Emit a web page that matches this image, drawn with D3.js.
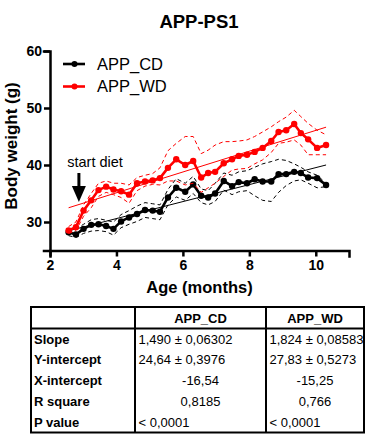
<!DOCTYPE html>
<html lang="en">
<head>
<meta charset="UTF-8">
<title>APP-PS1 body weight</title>
<script src="https://d3js.org/d3.v7.min.js"></script>
<style>
  body { margin: 0; background: #fff; }
  svg { display: block; font-family: "Liberation Sans", Arial, sans-serif; }
  .axis path, .axis line { stroke: #000; stroke-width: 2.5px; }
  .axis text { font-size: 14px; font-weight: bold; fill: #000; }
</style>
</head>
<body>
<svg width="373" height="442"></svg>
<script>
// ages (months) of each weekly weighing
const ages = [2.56, 2.78, 3.01, 3.24, 3.46, 3.69, 3.91, 4.14, 4.38, 4.62, 4.86, 5.09, 5.31, 5.55,
  5.80, 6.07, 6.31, 6.55, 6.76, 6.97, 7.23, 7.48, 7.68, 7.93, 8.16, 8.40, 8.66, 8.88, 9.11,
  9.35, 9.55, 9.77, 10.04, 10.31];

// APP_CD mean and band
const cdMean = [28.2, 27.8, 28.8, 29.5, 29.6, 29.3, 28.8, 30.1, 30.8, 31.4, 32.1, 32.0, 31.8, 34.3,
  36.0, 35.3, 36.6, 34.6, 34.3, 35.0, 37.2, 36.3, 37.0, 36.8, 37.5, 37.1, 37.1, 38.4, 38.4,
  38.8, 38.6, 37.8, 37.7, 36.5];
const cdUpper = [28.8, 28.8, 29.6, 30.4, 30.6, 30.3, 30.0, 31.3, 32.0, 32.8, 33.4, 33.2, 33.0, 35.7,
  37.6, 36.8, 38.0, 35.8, 35.5, 36.8, 38.6, 38.2, 38.8, 39.0, 39.6, 40.2, 40.6, 41.0, 40.8,
  40.2, 39.6, 38.8, 38.2, 36.8];
const cdLower = [27.6, 27.3, 28.0, 28.4, 28.5, 28.3, 27.7, 29.0, 29.6, 30.1, 30.8, 30.6, 30.4, 33.0,
  34.4, 33.8, 35.0, 33.4, 33.0, 33.6, 35.6, 34.8, 35.3, 35.5, 34.6, 33.8, 33.6, 35.2, 36.4,
  37.2, 37.4, 36.8, 36.0, 36.2];

// APP_WD mean and band
const wdMean = [28.5, 29.1, 32.0, 33.8, 35.6, 36.2, 35.7, 35.4, 34.8, 36.8, 37.1, 37.3, 37.7, 39.5,
  41.0, 40.0, 40.7, 37.8, 38.6, 38.8, 40.3, 41.0, 41.6, 41.8, 42.3, 43.0, 44.2, 45.8, 46.1,
  47.2, 45.6, 44.5, 43.0, 43.5];
const wdUpper = [29.2, 30.0, 33.0, 35.0, 36.8, 37.2, 36.8, 36.8, 36.5, 37.8, 38.2, 38.5, 39.5, 42.5,
  43.8, 45.0, 45.0, 42.0, 42.6, 43.5, 44.1, 44.1, 44.2, 44.4, 45.0, 45.8, 46.7, 47.6, 48.4,
  49.6, 48.5, 47.3, 46.1, 45.3];
const wdLower = [28.0, 28.5, 31.0, 32.5, 34.5, 35.2, 34.8, 34.3, 33.3, 35.5, 36.3, 36.6, 36.5, 37.2,
  37.2, 36.5, 36.8, 35.2, 36.0, 36.8, 38.0, 39.1, 39.3, 39.4, 40.2, 40.9, 42.2, 43.8, 44.0,
  44.4, 43.5, 41.8, 41.8, 41.8];

// linear fits (slope, intercept) from the table
const cdFit = [1.490, 24.64];
const wdFit = [1.824, 27.83];

const seriesNames = ["APP_CD", "APP_WD"];
const seriesColors = ["#000000", "#ff0000"];
const xTicks = [2, 4, 6, 8, 10];
const yTicks = [30, 40, 50, 60];
const dietStart = 2.87;

// table
const rowLabels = ["Slope", "Y-intercept", "X-intercept", "R square", "P value"];
const cdStats = ["1,490 ± 0,06302", "24,64 ± 0,3976", "-16,54", "0,8185", "< 0,0001"];
const wdStats = ["1,824 ± 0,08583", "27,83 ± 0,5273", "-15,25", "0,766", "< 0,0001"];
const centeredRows = [false, false, true, true, false];

const svg = d3.select("svg");
const x = d3.scaleLinear().domain([2, 11]).range([50, 349]);
const y = d3.scaleLinear().domain([25, 60]).range([250.5, 51]);

// title
svg.append("text").attr("x", 199).attr("y", 28).attr("text-anchor", "middle")
  .style("font-size", "18.5px").style("font-weight", "bold").text("APP-PS1");

// axes
svg.append("g").attr("class", "axis").attr("transform", "translate(0,250.5)")
  .call(d3.axisBottom(x).tickValues(xTicks).tickSize(6).tickPadding(4).tickFormat(d3.format("d")));
svg.append("g").attr("class", "axis").attr("transform", "translate(50,0)")
  .call(d3.axisLeft(y).tickValues(yTicks).tickSize(6).tickPadding(2).tickFormat(d3.format("d")));
svg.selectAll(".axis .domain").attr("stroke-linecap", "square");

svg.append("text").attr("x", 199.5).attr("y", 293).attr("text-anchor", "middle")
  .style("font-size", "16.5px").style("font-weight", "bold").text("Age (months)");
svg.append("text").attr("transform", "translate(17,146) rotate(-90)").attr("text-anchor", "middle")
  .style("font-size", "17px").style("font-weight", "bold").text("Body weight (g)");

const series = [
  { mean: cdMean, upper: cdUpper, lower: cdLower, fit: cdFit, color: seriesColors[0] },
  { mean: wdMean, upper: wdUpper, lower: wdLower, fit: wdFit, color: seriesColors[1] }
];

const line = d3.line().x(d => x(d[0])).y(d => y(d[1]));
const pairs = vals => ages.map((a, i) => [a, vals[i]]);
const xs = d3.extent(ages);

series.forEach(s => {
  [s.upper, s.lower].forEach(b => {
    svg.append("path").attr("d", line(pairs(b))).attr("fill", "none")
      .attr("stroke", s.color).attr("stroke-width", 1).attr("stroke-dasharray", "4,3");
  });
  svg.append("path").attr("d", line(xs.map(a => [a, s.fit[0] * a + s.fit[1]])))
    .attr("fill", "none").attr("stroke", s.color).attr("stroke-width", 1);
  svg.append("path").attr("d", line(pairs(s.mean))).attr("fill", "none")
    .attr("stroke", s.color).attr("stroke-width", 2.6).attr("stroke-linejoin", "round");
  svg.append("g").selectAll("circle").data(pairs(s.mean)).join("circle")
    .attr("cx", d => x(d[0])).attr("cy", d => y(d[1])).attr("r", 3.2).attr("fill", s.color);
});

// legend
seriesNames.forEach((name, i) => {
  const g = svg.append("g").attr("transform", `translate(63,${64 + i * 22.5})`);
  g.append("line").attr("x1", 0).attr("x2", 22).attr("stroke", seriesColors[i]).attr("stroke-width", 2.6);
  g.append("circle").attr("cx", 11.5).attr("r", 3).attr("fill", seriesColors[i]);
  g.append("text").attr("x", 34).attr("y", 5.8).style("font-size", "16.5px").text(name);
});

// start diet annotation
svg.append("text").attr("x", x(2.52)).attr("y", y(39.7)).style("font-size", "14.5px").text("start diet");
svg.append("line").attr("x1", x(dietStart)).attr("x2", x(dietStart))
  .attr("y1", y(38.6)).attr("y2", y(36)).attr("stroke", "#000").attr("stroke-width", 3);
svg.append("path").attr("fill", "#000")
  .attr("d", `M${x(dietStart) - 7},${y(36.3)} L${x(dietStart) + 7},${y(36.3)} L${x(dietStart)},${y(33.5)} Z`);

// table
const colX = [31, 135, 266, 364];
const tTop = 307, headH = 21.5, rowH = 20.8;
const tBottom = tTop + headH + rowH * rowLabels.length;
const t = svg.append("g");
t.append("rect").attr("x", colX[0]).attr("y", tTop).attr("width", colX[3] - colX[0])
  .attr("height", tBottom - tTop).attr("fill", "none").attr("stroke", "#000").attr("stroke-width", 2);
t.append("line").attr("x1", colX[0]).attr("x2", colX[3]).attr("y1", tTop + headH).attr("y2", tTop + headH)
  .attr("stroke", "#000").attr("stroke-width", 2);
[colX[1], colX[2]].forEach(cx => t.append("line").attr("x1", cx).attr("x2", cx)
  .attr("y1", tTop).attr("y2", tBottom).attr("stroke", "#000").attr("stroke-width", 2));
seriesNames.forEach((name, i) => {
  t.append("text").attr("x", (colX[i + 1] + colX[i + 2]) / 2).attr("y", tTop + 15.5)
    .attr("text-anchor", "middle").style("font-size", "13px").style("font-weight", "bold").text(name);
});
rowLabels.forEach((lab, r) => {
  const yy = tTop + headH + rowH * r + 15;
  t.append("text").attr("x", colX[0] + 3).attr("y", yy).style("font-size", "13px")
    .style("font-weight", "bold").text(lab);
  [cdStats[r], wdStats[r]].forEach((v, c) => {
    const cen = centeredRows[r];
    t.append("text").attr("x", cen ? (colX[c + 1] + colX[c + 2]) / 2 : colX[c + 1] + 3.5)
      .attr("y", yy).attr("text-anchor", cen ? "middle" : "start")
      .style("font-size", "13px").text(v);
  });
});
</script>
</body>
</html>
